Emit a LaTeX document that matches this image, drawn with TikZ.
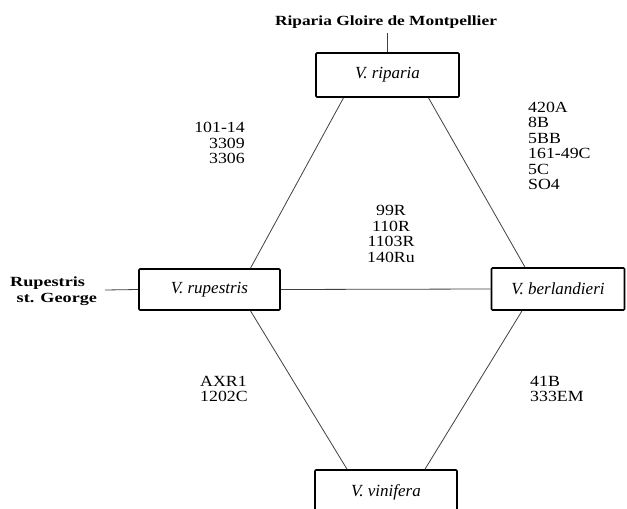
\documentclass[tikz,border=0pt]{standalone}
\usepackage{fontspec}
\setmainfont{Liberation Serif}
\newcommand\mystack[2]{\scalebox{1.15}[1]{\begin{tabular}{@{}#1@{}}#2\end{tabular}}}
\begin{document}
\begin{tikzpicture}[x=1pt,y=-1pt,
  box/.style={draw, line width=1.7pt, rounded corners=1pt, minimum width=143pt, minimum height=44pt, inner sep=0pt, font=\fontsize{17}{19}\selectfont\itshape},
  conn/.style={line width=0.8pt, draw=black!75},
  lbl/.style={font=\fontsize{15.5}{15.5}\selectfont, inner sep=0pt},
  ext/.style={font=\fontsize{14}{16}\selectfont\bfseries, inner sep=0pt}]
\useasboundingbox (0,0) rectangle (627,509);
\clip (0,0) rectangle (627,509);
\node[box] (rip) at (387.5,75) {V. riparia};
\node[box, minimum width=141pt, minimum height=41pt] (rup) at (209.5,289.5) {V. rupestris};
\node[box, minimum width=133pt, minimum height=42pt] (ber) at (558,289) {V. berlandieri};
\node[box, minimum width=142pt, minimum height=44pt] (vin) at (386,492) {V. vinifera};
\node[ext] (gloire) at (386,22) {\scalebox{1.24}[1]{Riparia Gloire de Montpellier}};
\node[ext, anchor=west] (stg) at (10,291) {\scalebox{1.3}[1]{\begin{tabular}{@{}l@{}}Rupestris\\\hspace{5pt}st. George\end{tabular}}};
\coordinate (stgend) at (105,290);
\draw[conn] ([yshift=-4pt]rip.north |- gloire.south) -- (rip.north);
\draw[conn] (stgend) -- (rup.west);
\draw[conn] (rup.east) -- (ber.west);
\draw[conn] ([xshift=-44pt]rip.south) -- ([xshift=41pt]rup.north);
\draw[conn] ([xshift=41pt]rip.south) -- ([xshift=-33pt]ber.north);
\draw[conn] ([xshift=41pt]rup.south) -- ([xshift=-39pt]vin.north);
\draw[conn] ([xshift=-36pt]ber.south) -- ([xshift=39pt]vin.north);
\node[lbl, anchor=east] (l1) at (245,145) {\mystack{r}{101-14\\3309\\3306}};
\node[lbl] (l2) at (391,236) {\mystack{c}{99R\\110R\\1103R\\140Ru}};
\node[lbl, anchor=north west] (l3) at (528,101) {\mystack{l}{420A\\8B\\5BB\\161-49C\\5C\\SO4}};
\node[lbl, anchor=north west] (l4) at (200,375) {\mystack{l}{AXR1\\1202C}};
\node[lbl, anchor=north west] (l5) at (530,375) {\mystack{l}{41B\\333EM}};
\end{tikzpicture}
\end{document}
